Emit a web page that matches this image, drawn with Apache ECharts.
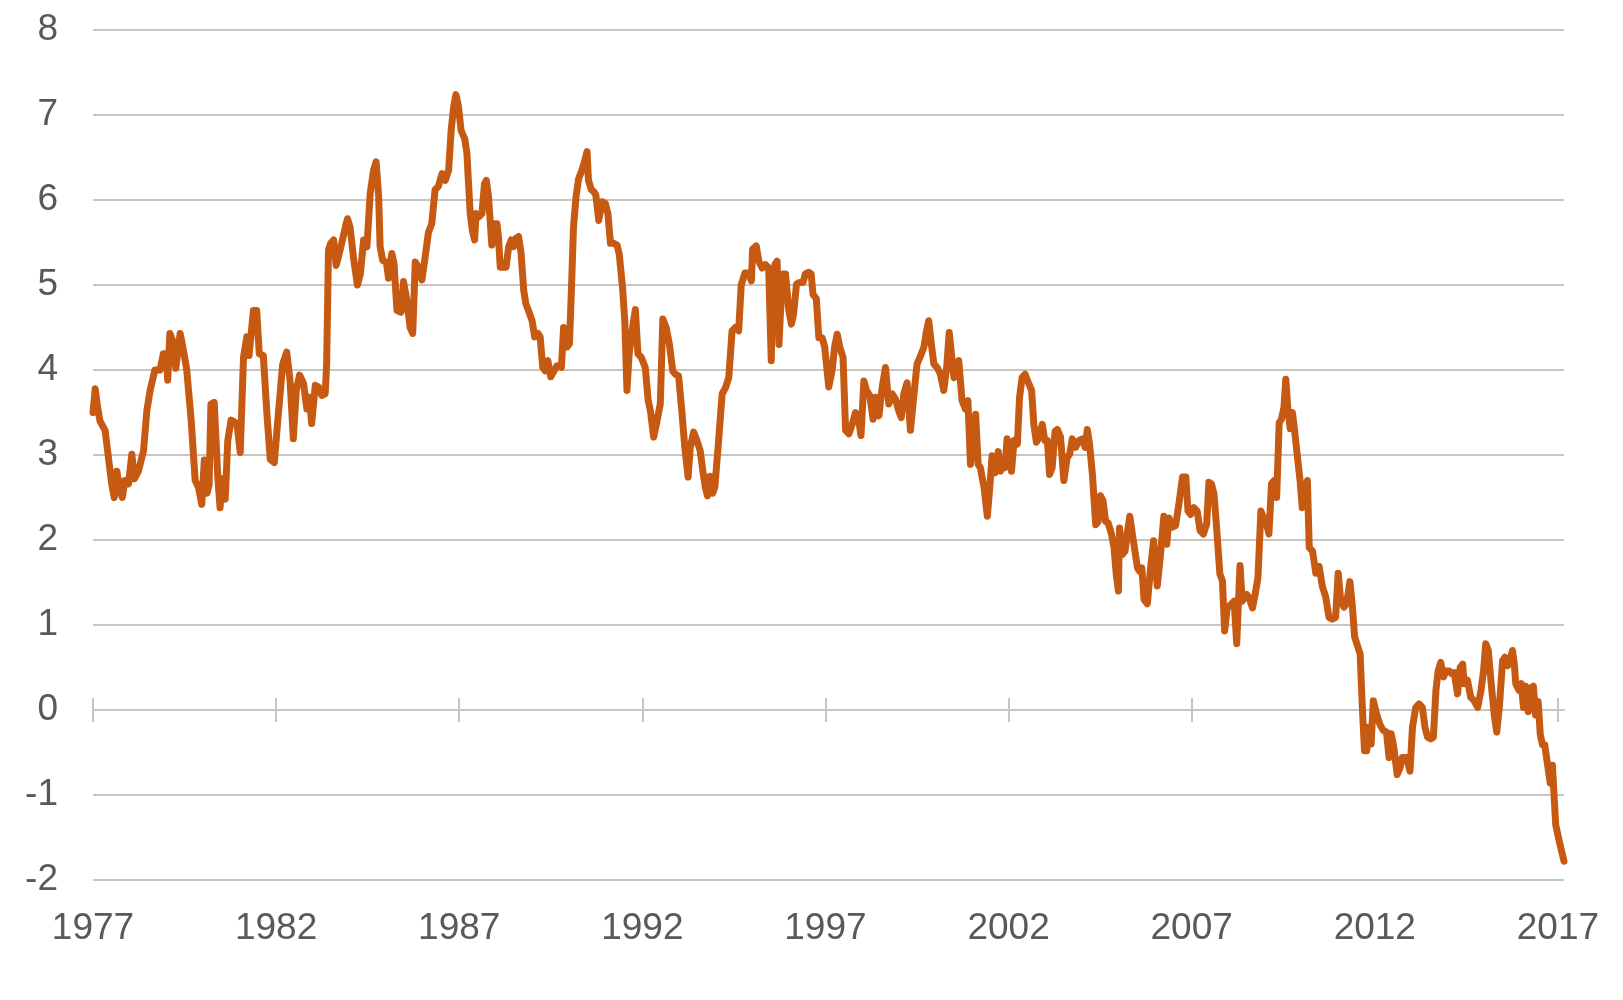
<!DOCTYPE html>
<html>
<head>
<meta charset="utf-8">
<title>Rate 1977-2017</title>
<script src="https://cdn.jsdelivr.net/npm/echarts@6/dist/echarts.min.js"></script>
<style>
  html, body { margin: 0; padding: 0; background: #fff; }
  #chart { width: 1623px; height: 1000px; }
</style>
</head>
<body>
<div id="chart"></div>
<script>
// tick labels
const tickYears = [1977, 1982, 1987, 1992, 1997, 2002, 2007, 2012, 2017];
const yMin = -2;
const yMax = 8;
const xMin = 1977;
const xMax = 2017 + 2 / 12;

// readings (fractional year, value)
const years = [
  1977.00, 1977.06, 1977.13, 1977.19, 1977.33, 1977.51, 1977.58, 1977.65, 1977.74, 1977.80,
  1977.87, 1977.97, 1978.06, 1978.13, 1978.24, 1978.38, 1978.47, 1978.56, 1978.69, 1978.83,
  1978.92, 1979.00, 1979.04, 1979.10, 1979.17, 1979.26, 1979.38, 1979.47, 1979.56, 1979.68,
  1979.79, 1979.88, 1979.97, 1980.04, 1980.11, 1980.17, 1980.22, 1980.31, 1980.41, 1980.47,
  1980.53, 1980.61, 1980.68, 1980.77, 1980.93, 1981.02, 1981.11, 1981.20, 1981.26, 1981.38,
  1981.47, 1981.54, 1981.65, 1981.75, 1981.84, 1981.95, 1982.06, 1982.18, 1982.29, 1982.38,
  1982.47, 1982.55, 1982.64, 1982.75, 1982.84, 1982.91, 1982.97, 1983.07, 1983.16, 1983.25,
  1983.34, 1983.38, 1983.43, 1983.49, 1983.57, 1983.64, 1983.70, 1983.79, 1983.89, 1983.95,
  1984.02, 1984.11, 1984.22, 1984.30, 1984.39, 1984.48, 1984.57, 1984.66, 1984.73, 1984.80,
  1984.84, 1984.91, 1985.01, 1985.07, 1985.16, 1985.22, 1985.30, 1985.41, 1985.48, 1985.57,
  1985.66, 1985.73, 1985.80, 1985.89, 1985.98, 1986.07, 1986.16, 1986.25, 1986.34, 1986.43,
  1986.53, 1986.62, 1986.71, 1986.78, 1986.85, 1986.91, 1986.98, 1987.05, 1987.15, 1987.21,
  1987.25, 1987.30, 1987.36, 1987.42, 1987.46, 1987.53, 1987.62, 1987.69, 1987.74, 1987.80,
  1987.85, 1987.89, 1987.97, 1988.03, 1988.07, 1988.12, 1988.21, 1988.28, 1988.35, 1988.42,
  1988.48, 1988.55, 1988.62, 1988.69, 1988.76, 1988.82, 1988.89, 1988.99, 1989.06, 1989.15,
  1989.21, 1989.28, 1989.35, 1989.42, 1989.50, 1989.59, 1989.67, 1989.79, 1989.85, 1989.94,
  1990.01, 1990.06, 1990.12, 1990.19, 1990.26, 1990.35, 1990.42, 1990.49, 1990.53, 1990.61,
  1990.67, 1990.73, 1990.81, 1990.90, 1990.99, 1991.06, 1991.13, 1991.22, 1991.31, 1991.37,
  1991.46, 1991.52, 1991.58, 1991.64, 1991.72, 1991.81, 1991.88, 1991.97, 1992.08, 1992.16,
  1992.22, 1992.31, 1992.40, 1992.49, 1992.56, 1992.65, 1992.74, 1992.83, 1992.90, 1992.99,
  1993.07, 1993.16, 1993.25, 1993.31, 1993.40, 1993.49, 1993.58, 1993.65, 1993.72, 1993.78,
  1993.85, 1993.92, 1993.98, 1994.09, 1994.18, 1994.27, 1994.36, 1994.45, 1994.54, 1994.63,
  1994.70, 1994.80, 1994.89, 1994.98, 1995.01, 1995.11, 1995.18, 1995.27, 1995.36, 1995.45,
  1995.52, 1995.56, 1995.62, 1995.68, 1995.73, 1995.77, 1995.84, 1995.91, 1996.00, 1996.07,
  1996.13, 1996.21, 1996.30, 1996.39, 1996.45, 1996.54, 1996.61, 1996.66, 1996.75, 1996.82,
  1996.91, 1996.98, 1997.09, 1997.18, 1997.25, 1997.32, 1997.39, 1997.48, 1997.55, 1997.64,
  1997.73, 1997.82, 1997.91, 1997.97, 1998.05, 1998.12, 1998.21, 1998.30, 1998.37, 1998.46,
  1998.55, 1998.64, 1998.73, 1998.82, 1998.91, 1999.00, 1999.07, 1999.14, 1999.23, 1999.32,
  1999.41, 1999.50, 1999.60, 1999.69, 1999.76, 1999.82, 1999.89, 1999.96, 2000.05, 2000.14,
  2000.23, 2000.31, 2000.38, 2000.43, 2000.51, 2000.58, 2000.64, 2000.73, 2000.82, 2000.89,
  2000.96, 2001.04, 2001.10, 2001.17, 2001.23, 2001.33, 2001.42, 2001.48, 2001.55, 2001.63,
  2001.72, 2001.78, 2001.85, 2001.90, 2001.96, 2002.03, 2002.08, 2002.15, 2002.24, 2002.30,
  2002.37, 2002.45, 2002.56, 2002.63, 2002.69, 2002.76, 2002.83, 2002.92, 2002.99, 2003.06,
  2003.12, 2003.19, 2003.27, 2003.33, 2003.42, 2003.51, 2003.60, 2003.67, 2003.74, 2003.83,
  2003.92, 2004.01, 2004.09, 2004.15, 2004.21, 2004.29, 2004.38, 2004.45, 2004.51, 2004.58,
  2004.65, 2004.72, 2004.81, 2004.88, 2004.94, 2005.00, 2005.03, 2005.11, 2005.18, 2005.24,
  2005.31, 2005.38, 2005.45, 2005.52, 2005.58, 2005.64, 2005.70, 2005.79, 2005.88, 2005.96,
  2006.06, 2006.15, 2006.24, 2006.32, 2006.38, 2006.47, 2006.56, 2006.65, 2006.75, 2006.84,
  2006.90, 2006.97, 2007.06, 2007.15, 2007.23, 2007.32, 2007.41, 2007.47, 2007.54, 2007.61,
  2007.68, 2007.77, 2007.84, 2007.90, 2007.97, 2008.07, 2008.16, 2008.23, 2008.32, 2008.38,
  2008.50, 2008.57, 2008.66, 2008.75, 2008.81, 2008.89, 2008.96, 2009.02, 2009.11, 2009.18,
  2009.25, 2009.32, 2009.39, 2009.45, 2009.52, 2009.57, 2009.63, 2009.69, 2009.75, 2009.81,
  2009.89, 2009.96, 2010.02, 2010.09, 2010.16, 2010.21, 2010.30, 2010.39, 2010.48, 2010.57,
  2010.66, 2010.75, 2010.84, 2010.93, 2011.00, 2011.07, 2011.16, 2011.23, 2011.32, 2011.39,
  2011.45, 2011.54, 2011.60, 2011.66, 2011.72, 2011.78, 2011.84, 2011.90, 2011.96, 2012.05,
  2012.14, 2012.23, 2012.32, 2012.39, 2012.45, 2012.52, 2012.61, 2012.69, 2012.75, 2012.87,
  2012.96, 2013.03, 2013.12, 2013.21, 2013.30, 2013.37, 2013.44, 2013.53, 2013.60, 2013.67,
  2013.73, 2013.80, 2013.88, 2013.94, 2014.03, 2014.09, 2014.17, 2014.26, 2014.33, 2014.40,
  2014.44, 2014.53, 2014.62, 2014.71, 2014.81, 2014.90, 2014.97, 2015.03, 2015.10, 2015.17,
  2015.26, 2015.33, 2015.40, 2015.49, 2015.55, 2015.63, 2015.70, 2015.76, 2015.81, 2015.85,
  2015.94, 2016.00, 2016.06, 2016.12, 2016.19, 2016.26, 2016.33, 2016.39, 2016.46, 2016.52,
  2016.58, 2016.64, 2016.72, 2016.79, 2016.85, 2016.90, 2016.94, 2017.04, 2017.167
];

const rates = [
  3.50, 3.78, 3.55, 3.40, 3.29, 2.66, 2.50, 2.81, 2.58, 2.50,
  2.70, 2.66, 3.01, 2.72, 2.81, 3.05, 3.52, 3.76, 4.00, 4.00,
  4.19, 4.19, 3.88, 4.43, 4.35, 4.02, 4.43, 4.23, 4.00, 3.41,
  2.70, 2.62, 2.42, 2.94, 2.55, 2.64, 3.60, 3.62, 2.72, 2.38,
  2.72, 2.48, 3.17, 3.41, 3.37, 3.03, 4.15, 4.39, 4.17, 4.70,
  4.70, 4.19, 4.17, 3.48, 2.95, 2.91, 3.48, 4.07, 4.21, 3.88,
  3.19, 3.76, 3.94, 3.84, 3.54, 3.68, 3.37, 3.82, 3.80, 3.70,
  3.72, 4.07, 5.41, 5.49, 5.53, 5.23, 5.33, 5.49, 5.68, 5.78,
  5.68, 5.33, 5.00, 5.13, 5.53, 5.45, 6.08, 6.35, 6.45, 6.04,
  5.45, 5.29, 5.27, 5.08, 5.37, 5.25, 4.70, 4.68, 5.04, 4.82,
  4.50, 4.43, 5.27, 5.21, 5.06, 5.33, 5.62, 5.72, 6.12, 6.16,
  6.31, 6.23, 6.35, 6.82, 7.10, 7.24, 7.10, 6.82, 6.72, 6.55,
  6.23, 5.84, 5.64, 5.53, 5.84, 5.80, 5.84, 6.19, 6.23, 6.04,
  5.72, 5.47, 5.72, 5.72, 5.57, 5.21, 5.21, 5.21, 5.45, 5.53,
  5.45, 5.55, 5.57, 5.37, 4.94, 4.78, 4.70, 4.58, 4.39, 4.43,
  4.39, 4.03, 3.99, 4.11, 3.92, 3.99, 4.05, 4.03, 4.50, 4.27,
  4.31, 4.90, 5.68, 6.04, 6.25, 6.35, 6.45, 6.57, 6.23, 6.12,
  6.10, 6.06, 5.76, 5.98, 5.96, 5.84, 5.49, 5.49, 5.47, 5.36,
  4.97, 4.58, 3.76, 4.19, 4.46, 4.71, 4.19, 4.15, 4.03, 3.64,
  3.52, 3.21, 3.40, 3.60, 4.60, 4.50, 4.30, 3.99, 3.95, 3.93,
  3.56, 3.09, 2.74, 3.09, 3.27, 3.17, 3.05, 2.82, 2.62, 2.52,
  2.75, 2.55, 2.62, 3.21, 3.72, 3.79, 3.91, 4.46, 4.50, 4.46,
  5.00, 5.14, 5.14, 5.05, 5.42, 5.46, 5.28, 5.20, 5.24, 5.20,
  4.11, 5.05, 5.24, 5.28, 4.30, 4.66, 5.13, 5.13, 4.70, 4.54,
  4.66, 5.01, 5.03, 5.03, 5.13, 5.15, 5.13, 4.89, 4.84, 4.38,
  4.38, 4.27, 3.80, 3.99, 4.27, 4.42, 4.27, 4.15, 3.29, 3.25,
  3.36, 3.50, 3.40, 3.23, 3.87, 3.76, 3.70, 3.42, 3.68, 3.46,
  3.80, 4.03, 3.60, 3.72, 3.66, 3.52, 3.44, 3.72, 3.85, 3.29,
  3.68, 4.07, 4.17, 4.27, 4.46, 4.58, 4.31, 4.07, 4.03, 3.95,
  3.76, 4.03, 4.44, 4.23, 3.91, 4.03, 4.11, 3.64, 3.54, 3.64,
  2.89, 3.17, 3.48, 2.89, 2.85, 2.62, 2.28, 2.58, 2.99, 2.79,
  3.04, 2.81, 2.93, 2.85, 3.19, 3.04, 2.81, 3.17, 3.13, 3.68,
  3.91, 3.95, 3.83, 3.76, 3.36, 3.15, 3.21, 3.36, 3.17, 3.17,
  2.77, 2.85, 3.28, 3.30, 3.21, 2.70, 2.97, 3.01, 3.19, 3.09,
  3.17, 3.19, 3.09, 3.30, 3.13, 2.77, 2.18, 2.22, 2.52, 2.46,
  2.22, 2.20, 2.07, 1.91, 1.60, 1.40, 2.14, 1.83, 1.87, 2.07,
  2.28, 2.07, 1.87, 1.67, 1.63, 1.67, 1.30, 1.25, 1.68, 1.99,
  1.46, 1.83, 2.28, 1.95, 2.26, 2.15, 2.17, 2.42, 2.74, 2.74,
  2.34, 2.30, 2.38, 2.34, 2.11, 2.07, 2.19, 2.68, 2.66, 2.54,
  2.15, 1.60, 1.52, 0.93, 1.20, 1.24, 1.28, 0.78, 1.70, 1.28,
  1.36, 1.32, 1.20, 1.40, 1.56, 2.34, 2.26, 2.23, 2.07, 2.66,
  2.70, 2.50, 3.38, 3.42, 3.56, 3.89, 3.52, 3.31, 3.50, 3.29,
  2.97, 2.70, 2.38, 2.58, 2.70, 1.91, 1.87, 1.61, 1.69, 1.45,
  1.33, 1.09, 1.07, 1.09, 1.61, 1.29, 1.21, 1.25, 1.51, 1.21,
  0.86, 0.74, 0.66, 0.03, -0.48, -0.48, -0.20, -0.40, 0.11, -0.05,
  -0.17, -0.24, -0.26, -0.56, -0.28, -0.44, -0.76, -0.68, -0.56, -0.56,
  -0.72, -0.20, 0.03, 0.07, 0.03, -0.20, -0.32, -0.34, -0.32, 0.23,
  0.46, 0.56, 0.39, 0.46, 0.46, 0.43, 0.44, 0.19, 0.50, 0.54,
  0.31, 0.35, 0.15, 0.11, 0.03, 0.23, 0.46, 0.78, 0.70, 0.35,
  -0.05, -0.26, 0.03, 0.58, 0.62, 0.52, 0.60, 0.70, 0.54, 0.31,
  0.23, 0.31, 0.03, 0.28, -0.02, 0.26, 0.28, -0.06, 0.10, -0.29,
  -0.41, -0.41, -0.65, -0.86, -0.65, -0.63, -1.35, -1.55, -1.78
];

class RateChart {
  constructor() {
    this.drawChart();
  }

  drawChart() {
    const dom = document.getElementById('chart');
    if (!dom) return;

    const chart = echarts.init(dom, null, { renderer: 'canvas' });

    const gridColor = '#c9c6c1';
    const textColor = '#595959';
    const font = "'Liberation Sans', Arial, sans-serif";
    const gridBox = { left: 93, right: 59, top: 30, bottom: 120 };

    const points = years.map((y, i) => [y, rates[i]]);

    const option = {
      backgroundColor: '#ffffff',
      animation: false,
      grid: [
        Object.assign({}, gridBox),
        Object.assign({}, gridBox)
      ],
      xAxis: [
        {
          // labels along the bottom
          gridIndex: 0,
          type: 'value',
          min: xMin,
          max: xMax,
          position: 'bottom',
          axisLine: { show: false, onZero: false },
          axisTick: { show: false },
          splitLine: { show: false },
          axisLabel: {
            customValues: tickYears,
            formatter: (v) => String(Math.round(v)),
            margin: 30,
            fontSize: 37,
            color: textColor,
            fontFamily: font
          }
        },
        {
          // zero line with ticks pointing up
          gridIndex: 0,
          type: 'value',
          min: xMin,
          max: xMax,
          position: 'top',
          axisLine: { show: true, onZero: true, onZeroAxisIndex: 0, lineStyle: { color: gridColor, width: 2 } },
          axisTick: { show: true, customValues: tickYears, length: 12, inside: false, lineStyle: { color: gridColor, width: 2 } },
          axisLabel: { show: false },
          splitLine: { show: false }
        },
        {
          // ticks pointing down
          gridIndex: 1,
          type: 'value',
          min: xMin,
          max: xMax,
          position: 'bottom',
          axisLine: { show: true, onZero: true, lineStyle: { color: gridColor, width: 2 } },
          axisTick: { show: true, customValues: tickYears, length: 12, inside: false, lineStyle: { color: gridColor, width: 2 } },
          axisLabel: { show: false },
          splitLine: { show: false }
        }
      ],
      yAxis: [
        {
          gridIndex: 0,
          type: 'value',
          min: yMin,
          max: yMax,
          interval: 1,
          axisLine: { show: false },
          axisTick: { show: false },
          axisLabel: { margin: 35, fontSize: 37, color: textColor, fontFamily: font },
          splitLine: { show: true, lineStyle: { color: gridColor, width: 2 } }
        },
        {
          gridIndex: 1,
          type: 'value',
          min: yMin,
          max: yMax,
          interval: 1,
          show: false,
          splitLine: { show: false }
        }
      ],
      series: [{
        name: 'rate',
        type: 'line',
        xAxisIndex: 0,
        yAxisIndex: 0,
        data: points,
        showSymbol: false,
        symbol: 'none',
        lineStyle: { color: '#c75a12', width: 7, join: 'round', cap: 'round' },
        itemStyle: { color: '#c75a12' },
        z: 5
      }]
    };

    chart.setOption(option);

    window.addEventListener('resize', () => chart.resize());
  }
}

!(() => {
  document.addEventListener('DOMContentLoaded', () => window.RateChartInst = new RateChart());
})();
</script>
</body>
</html>
